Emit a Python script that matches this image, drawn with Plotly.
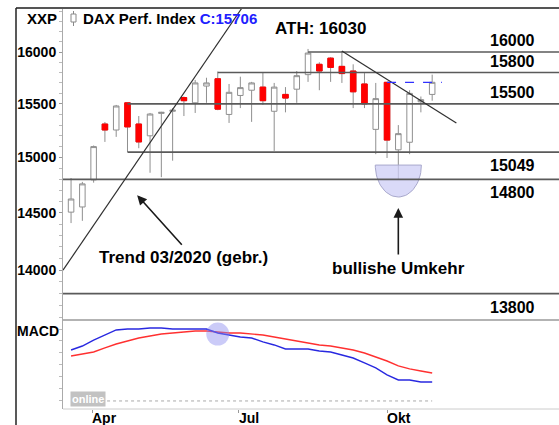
import math
import pandas as pd
import plotly.graph_objects as go

# ---------------- data ----------------
dates = pd.date_range("2021-03-19", periods=33, freq="7D")
open_ = [14506, 14552, 14795, 15310, 15254, 15510, 15310, 15200, 15410, 15430, 15560,
         15510, 15670, 15740, 15400, 15580, 15630, 15660, 15430, 15590, 15640, 15780,
         15880, 15940, 15860, 15815, 15690, 15260, 15706, 15070, 15140, 15520, 15590]
high = [14812, 14777, 15110, 15329, 15490, 15510, 15385, 15414, 15425, 15460, 15570,
        15729, 15750, 15810, 15690, 15760, 15710, 15805, 15700, 15660, 15815, 16030,
        15900, 15950, 16010, 15880, 15795, 15700, 15706, 15300, 15630, 15570, 15780]
low = [14409, 14429, 14770, 15143, 15190, 15050, 15085, 14860, 14820, 14970, 15385,
       15414, 15510, 15440, 15320, 15460, 15330, 15490, 15060, 15420, 15510, 15710,
       15630, 15710, 15700, 15460, 15460, 15030, 14995, 14800, 15030, 15420, 15530]
close = [14623, 14759, 15100, 15254, 15480, 15283, 15143, 15404, 15420, 15440, 15530,
         15700, 15700, 15450, 15610, 15655, 15700, 15530, 15660, 15555, 15770, 15990,
         15815, 15850, 15790, 15615, 15500, 15550, 15160, 15220, 15600, 15540, 15706]

macd = [425, 458, 508, 550, 592, 600, 600, 608, 608, 600, 600, 600, 600, 567, 550, 533,
        525, 492, 467, 433, 433, 433, 417, 408, 383, 358, 317, 275, 217, 175, 175, 158, 158]
signal = [375, 392, 408, 442, 475, 500, 525, 542, 558, 567, 575, 583, 583, 575, 567, 567,
          558, 550, 533, 517, 500, 483, 467, 458, 442, 425, 400, 367, 333, 292, 267, 250, 233]

# support / resistance levels
levels = [16000, 15800, 15500, 15049, 14800, 13800]
level_starts = ["2021-08-13", "2021-06-18", "2021-04-23", "2021-04-23", "2021-03-14", "2021-03-14"]
level_label_above = [True, True, True, False, False, False]

ath = 16030
last_close = 15706
x_ticks = ["2021-04-01", "2021-07-01", "2021-10-01"]
x_tick_text = ["Apr", "Jul", "Okt"]
y_ticks = [14000, 14500, 15000, 15500, 16000]

# trend lines (date, price)
up_trend = (["2021-03-14", "2021-07-03"], [14000, 16437])
down_trend = (["2021-09-03", "2021-11-13"], [16010, 15320])

FONT = "Liberation Sans, Arial, sans-serif"
W, H = 559, 425
L, R, T, B = 63, 0, 8, 16
PW, PH = W - L - R, H - T - B
split = 89 / PH  # MACD panel height fraction


def px(x):
    return (x - L) / PW


def py(y):
    return (H - B - y) / PH


fig = go.Figure()

# bullish reversal half-ellipse
cx = pd.Timestamp("2021-10-08")
lt, lb = math.log10(14930), math.log10(14641)
ex, ey = [], []
for i in range(41):
    t = math.pi * i / 40
    ex.append(cx + pd.Timedelta(days=14.3 * math.cos(t)))
    ey.append(10 ** (lt - (lt - lb) * math.sin(t)))
ex.append(ex[0]); ey.append(ey[0])
fig.add_trace(go.Scatter(x=ex, y=ey, mode="lines", fill="toself",
                         fillcolor="rgba(205,205,245,0.75)",
                         line=dict(color="#a8a8cc", width=1), hoverinfo="skip",
                         showlegend=False, xaxis="x", yaxis="y"))

# horizontal levels
for lv, st in zip(levels, level_starts):
    fig.add_trace(go.Scatter(x=[st, "2022-01-20"], y=[lv, lv], mode="lines",
                             line=dict(color="#5a5a5a", width=1.6), hoverinfo="skip",
                             showlegend=False, xaxis="x", yaxis="y"))

# candles
fig.add_trace(go.Candlestick(
    x=dates, open=open_, high=high, low=low, close=close,
    increasing=dict(line=dict(color="#8f8f8f", width=1), fillcolor="white"),
    decreasing=dict(line=dict(color="#8f8f8f", width=1), fillcolor="#ff0000"),
    whiskerwidth=0, showlegend=False, xaxis="x", yaxis="y", hoverinfo="skip"))
dx = [d for d, o, c in zip(dates, open_, close) if c < o]
do = [o for o, c in zip(open_, close) if c < o]
dc = [c for o, c in zip(open_, close) if c < o]
fig.add_trace(go.Candlestick(
    x=dx, open=do, high=do, low=dc, close=dc,
    increasing=dict(line=dict(color="#ff0000", width=1), fillcolor="#ff0000"),
    decreasing=dict(line=dict(color="#ff0000", width=1), fillcolor="#ff0000"),
    whiskerwidth=0, showlegend=False, xaxis="x", yaxis="y", hoverinfo="skip"))

# trend lines
for xs, ys in (up_trend, down_trend):
    fig.add_trace(go.Scatter(x=xs, y=ys, mode="lines", line=dict(color="#303030", width=1.2),
                             hoverinfo="skip", showlegend=False, xaxis="x", yaxis="y"))

# last close dashed line
fig.add_trace(go.Scatter(x=["2021-10-01", "2021-11-04"], y=[last_close, last_close], mode="lines",
                         line=dict(color="#3030ff", width=1.3, dash="dash"), hoverinfo="skip",
                         showlegend=False, xaxis="x", yaxis="y"))

# MACD panel
fig.add_trace(go.Scatter(x=[dates[0], dates[-1]], y=[0, 0], mode="lines",
                         line=dict(color="#aaaaaa", width=1, dash="dot"), hoverinfo="skip",
                         showlegend=False, xaxis="x", yaxis="y2"))
fig.add_trace(go.Scatter(x=dates, y=signal, mode="lines", line=dict(color="#ff3030", width=1.4),
                         hoverinfo="skip", showlegend=False, xaxis="x", yaxis="y2"))
fig.add_trace(go.Scatter(x=dates, y=macd, mode="lines", line=dict(color="#2828e0", width=1.4),
                         hoverinfo="skip", showlegend=False, xaxis="x", yaxis="y2"))
fig.add_trace(go.Scatter(x=["2021-06-18"], y=[558], mode="markers",
                         marker=dict(size=23, color="rgba(140,140,240,0.45)", line=dict(width=0)),
                         hoverinfo="skip", showlegend=False, xaxis="x", yaxis="y2"))

bold = dict(family=FONT, color="black", weight="bold")


def ptext(x, y, text, size, xanchor="center", **kw):
    return dict(x=px(x), y=py(y), xref="paper", yref="paper", text=text, showarrow=False,
                xanchor=xanchor, yanchor="middle", font=dict(size=size, **bold), **kw)


ann = []
# right level labels
for lv, above in zip(levels, level_label_above):
    ann.append(dict(x="2022-01-02", y=math.log10(lv), xref="x", yref="y", text=str(lv),
                    showarrow=False, xanchor="right", yanchor="bottom" if above else "top",
                    yshift=1 if above else -3, font=dict(size=16, **bold)))
ann.append(ptext(320, 28.5, f"ATH: {ath}", 17))
ann.append(ptext(42, 18.5, "XXP", 15))
ann.append(ptext(81, 18.5, f"DAX Perf. Index <span style='color:#2020ff'>C:{last_close}</span>",
                 15, xanchor="left"))
ann.append(ptext(15, 331, "MACD", 14, xanchor="left"))
# arrows + texts
ann.append(dict(x="2021-04-29", y=math.log10(14657), xref="x", yref="y", text="",
                showarrow=True, ax=46, ay=51, axref="pixel", ayref="pixel",
                arrowhead=2, arrowsize=1.2, arrowwidth=1.6, arrowcolor="#1a1a1a"))
ann.append(ptext(183, 257, "Trend 03/2020 (gebr.)", 17))
ann.append(dict(x="2021-10-08", y=math.log10(14542), xref="x", yref="y", text="",
                showarrow=True, ax=0, ay=48, axref="pixel", ayref="pixel",
                arrowhead=2, arrowsize=1.2, arrowwidth=1.6, arrowcolor="#1a1a1a"))
ann.append(ptext(398, 268, "bullishe Umkehr", 17))
# x labels
for xv, tx in zip(x_ticks, x_tick_text):
    ann.append(dict(x=xv, y=0, xref="x", yref="paper", text=tx, showarrow=False,
                    xanchor="left", yanchor="top", xshift=-2, yshift=1,
                    font=dict(size=14, **bold)))
# logo
ann.append(dict(x=px(88), y=py(399), xref="paper", yref="paper", text="online", showarrow=False,
                xanchor="center", yanchor="middle",
                bgcolor="#c2c2c2", font=dict(size=11, family=FONT, color="white", weight="bold"),
                borderpad=1))

shapes = [
    dict(type="line", xref="paper", yref="paper", x0=px(16), x1=1, y0=1, y1=1,
         line=dict(color="#555555", width=2)),
    dict(type="line", xref="paper", yref="paper", x0=px(16), x1=px(16), y0=py(425), y1=1,
         line=dict(color="#222222", width=1.5)),
    dict(type="line", xref="paper", yref="paper", x0=0, x1=1, y0=split, y1=split,
         line=dict(color="#9a9a9a", width=1.5)),
    dict(type="line", xref="paper", yref="paper", x0=0, x1=1, y0=0, y1=0,
         line=dict(color="#cccccc", width=1)),
    # small candle icon in title
    dict(type="line", xref="paper", yref="paper", x0=px(73.5), x1=px(73.5), y0=py(26), y1=py(11),
         line=dict(color="#888888", width=1)),
    dict(type="rect", xref="paper", yref="paper", x0=px(71), x1=px(76), y0=py(22), y1=py(14),
         line=dict(color="#888888", width=1), fillcolor="white"),
]

fig.update_layout(
    width=W, height=H, margin=dict(l=L, r=R, t=T, b=B),
    paper_bgcolor="white", plot_bgcolor="white", showlegend=False,
    font=dict(family=FONT),
    xaxis=dict(type="date", range=["2021-03-14", "2022-01-15 16:00"], anchor="y2",
               rangeslider=dict(visible=False), showgrid=False, zeroline=False,
               tickvals=x_ticks, showticklabels=False, ticks="outside", ticklen=3,
               tickcolor="#999999", showline=False),
    yaxis=dict(domain=[split, 1], type="log",
               range=[math.log10(13579), math.log10(16437)],
               tickvals=y_ticks, ticktext=[str(v) for v in y_ticks],
               ticks="outside", ticklen=3, tickcolor="#999999",
               showline=True, linecolor="#aaaaaa", linewidth=1,
               showgrid=False, zeroline=False,
               tickfont=dict(size=14, **bold),
               minor=dict(dtick="L100", ticks="outside", ticklen=3, tickcolor="#bbbbbb")),
    yaxis2=dict(domain=[0, split], range=[-67, 675], showticklabels=False,
                ticks="outside", tick0=0, dtick=100, ticklen=3, tickcolor="#bbbbbb",
                showline=True, linecolor="#aaaaaa", linewidth=1,
                showgrid=False, zeroline=False),
    annotations=ann, shapes=shapes,
)

fig.write_html("out.html", config={"displayModeBar": False},
               post_script="document.body.style.margin='0';document.body.style.overflow='hidden';")
